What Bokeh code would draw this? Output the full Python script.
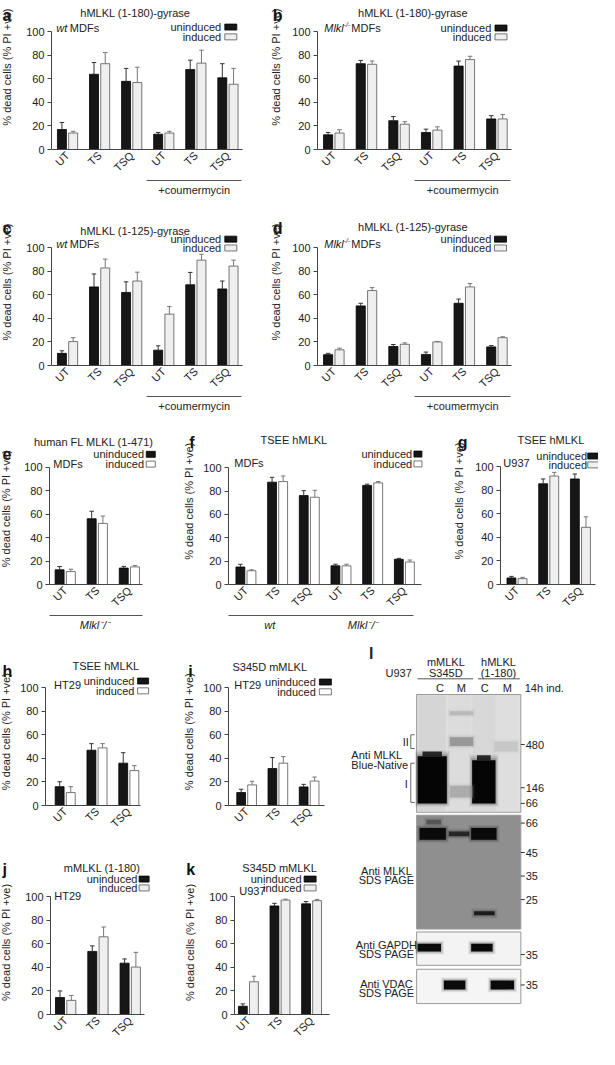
import math
from bokeh.plotting import figure
from bokeh.layouts import row, column
from bokeh.models import Range1d, LinearAxis, FixedTicker, Title
from bokeh.core.properties import value
from bokeh.embed import file_html
from bokeh.resources import INLINE

FONT = "Liberation Sans"
SX = 599 / 615
SY = 1045 / 1065
INK = "#161616"
TXT = "#222222"
YLABEL = "% dead cells (% PI +ve)"
ML = 26  # px between a panel's strip and its y axis

# ---------------- data ----------------
cats6 = ["UT", "TS", "TSQ", "UT", "TS", "TSQ"]
cats3 = ["UT", "TS", "TSQ"]

a_un = [17, 64, 58, 13, 68, 61]
a_un_err = [6, 10, 11, 1.5, 8, 12]
a_in = [14, 73, 57, 14, 73.5, 55.5]
a_in_err = [1.5, 9.5, 13, 1.5, 11, 13.5]

b_un = [12.5, 73, 24.5, 14.5, 71, 26]
b_un_err = [2, 2.8, 3.5, 2.8, 4.2, 2.8]
b_in = [14, 72.5, 21.5, 16.5, 76.5, 26]
b_in_err = [2.8, 2.8, 2.2, 2.8, 2.8, 3.8]

c_un = [10.3, 66.7, 62, 13, 68.5, 65]
c_un_err = [2.2, 11, 9, 3.7, 10.5, 6.7]
c_in = [20.3, 82.8, 71.7, 43.6, 89.4, 84.4]
c_in_err = [3.3, 7.5, 7.5, 6.4, 5, 5]

d_un = [9.2, 50.6, 16.1, 9.4, 52.8, 15.8]
d_un_err = [1.1, 2.2, 1.7, 2, 3.6, 1.1]
d_in = [13.3, 63.6, 18, 20, 66.7, 23.6]
d_in_err = [1.4, 2.5, 1.2, 0.4, 2.8, 0.8]

e_un = [12.5, 56, 14]
e_un_err = [2.8, 6.4, 1.4]
e_in = [11, 52, 15]
e_in_err = [2, 6.3, 1.1]

f_un = [15, 87.7, 76.2, 16, 84.9, 21.6]
f_un_err = [2.3, 4.2, 4.2, 1.4, 1.1, 0.8]
f_in = [11.8, 88.2, 74.8, 16, 87.1, 19.3]
f_in_err = [0.8, 4.8, 5.9, 1.4, 1.1, 1.7]

g_un = [5.6, 85.6, 89.7]
g_un_err = [1.3, 4.1, 4.2]
g_in = [5, 92.2, 48.6]
g_in_err = [1.1, 3.1, 8.9]

h_un = [16, 47, 36]
h_un_err = [4.2, 5.6, 8.9]
h_in = [11, 49, 29.7]
h_in_err = [5, 3.6, 4.2]

i_un = [11, 31.4, 15.8]
i_un_err = [2.8, 9.4, 2.2]
i_in = [17.5, 36, 20.8]
i_in_err = [3.1, 5.6, 3.4]

j_un = [14.4, 53.6, 43.6]
j_un_err = [5.6, 4.7, 3.6]
j_in = [12, 66, 40.3]
j_in_err = [4.2, 8.3, 12.5]

k_un = [7, 92.2, 94]
k_un_err = [2, 2.2, 1.9]
k_in = [27.8, 97.2, 96.7]
k_in_err = [4.7, 0.8, 1.1]

legend_labels = ["uninduced", "induced"]
y_ticks = [0, 20, 40, 60, 80, 100]

# western blot (panel l) labels
mw_native = ["480", "146", "66"]
mw_sds = ["66", "45", "35", "25"]
mw_gapdh = ["35"]
mw_vdac = ["35"]
lane_labels = ["C", "M", "C", "M"]
construct_top = ["mMLKL", "hMLKL"]
construct_bottom = ["S345D", "(1-180)"]

# ---------------- layout specs (reference pixel geometry) ----------------
SPECS = {
    "a": dict(canvas=(0, 0, 272, 217), frame=(50, 152, 6, 272), xs=-0.5, xe=5.45, axis_end=248, y100=32,
              ylab_x=7, letter=(2, 1), title=("hMLKL (1-180)-gyrase", 137, 13),
              cell=[("wt", "italic", 55), ("MDFs", "normal", 69)], cell_y=28,
              leg_x=226, leg_y=(27, 37), sq=(236, 12, 6),
              under=([3.95], ["+coumermycin"], (2.45, 5.42), False), ind_fill="#efefef"),
    "b": dict(canvas=(272, 0, 615, 217), frame=(323, 152, 6, 615), xs=-0.5, xe=5.45, axis_end=524, y100=32,
              ylab_x=283, letter=(279.5, 1), title=("hMLKL (1-180)-gyrase", 422, 13),
              cell=[("Mlkl", "italic", 330), ("MDFs", "normal", 358)], sup=(350, 24), cell_y=28,
              leg_x=503, leg_y=(28, 37), sq=(513, 12, 6),
              under=([3.95], ["+coumermycin"], (2.47, 5.43), False), ind_fill="#efefef"),
    "c": dict(canvas=(0, 217, 272, 438), frame=(50, 371.7, 223, 272), xs=-0.5, xe=5.45, axis_end=248, y100=251.7,
              ylab_x=7, letter=(2, 218), title=("hMLKL (1-125)-gyrase", 137, 235),
              cell=[("wt", "italic", 55), ("MDFs", "normal", 69)], cell_y=248,
              leg_x=226, leg_y=(243, 252), sq=(236, 12, 6),
              under=([3.95], ["+coumermycin"], (2.45, 5.42), False), ind_fill="#efefef"),
    "d": dict(canvas=(272, 217, 615, 438), frame=(323, 371.7, 223, 615), xs=-0.5, xe=5.45, axis_end=524, y100=251.7,
              ylab_x=283, letter=(279.5, 218), title=("hMLKL (1-125)-gyrase", 422, 231),
              cell=[("Mlkl", "italic", 330), ("MDFs", "normal", 358)], sup=(350, 244), cell_y=248,
              leg_x=503, leg_y=(243, 252), sq=(512.5, 12, 6),
              under=([3.95], ["+coumermycin"], (2.47, 5.43), False), ind_fill="#efefef"),
    "e": dict(canvas=(0, 438, 183, 655), frame=(48, 595, 455, 183), xs=-0.49, xe=2.4, axis_end=145, y100=475,
              ylab_x=6, letter=(2, 439), title=("human FL MLKL (1-471)", 32, 448), title_as_title=True,
              cell=[("MDFs", "normal", 52)], cell_y=472,
              leg_x=147, leg_y=(462, 472), sq=(154, 9, 6),
              under=([0.93], ["Mlkl\u207b/\u207b"], (-0.49, 2.4), True), ind_fill="white"),
    "f": dict(canvas=(183, 438, 440, 655), frame=(232, 595, 441, 440), xs=-0.55, xe=5.55, axis_end=433, y100=476,
              ylab_x=194, letter=(194, 439), title=("TSEE hMLKL", 300, 448),
              cell=[("MDFs", "normal", 238)], cell_y=471,
              leg_x=423, leg_y=(462, 472), sq=(429, 8, 6),
              under=([0.75, 3.7], ["wt", "Mlkl\u207b/\u207b"], (-0.55, 5.3), True), ind_fill="white"),
    "g": dict(canvas=(440, 438, 615, 655), frame=(512, 595, 441, 615), xs=-0.52, xe=2.48, axis_end=612, y100=475,
              ylab_x=471, letter=(470, 439), title=("TSEE hMLKL", 565, 448),
              cell=[("U937", "normal", 515)], cell_y=471,
              leg_x=603, leg_y=(464, 473), sq=(609.5, 11, 6),
              under=None, ind_fill="#efefef"),
    "h": dict(canvas=(0, 655, 183, 866), frame=(44, 820, 670, 183), xs=-0.62, xe=2.36, axis_end=143, y100=700,
              ylab_x=6, letter=(2, 661), title=("TSEE hMLKL", 107, 678),
              cell=[("HT29", "normal", 53)], cell_y=697,
              leg_x=137, leg_y=(693, 703), sq=(146, 11, 6),
              under=None, ind_fill="white"),
    "i": dict(canvas=(183, 655, 355, 866), frame=(232, 820, 670, 355), xs=-0.58, xe=2.49, axis_end=332, y100=700,
              ylab_x=194, letter=(193, 661), title=("S345D mMLKL", 275, 679),
              cell=[("HT29", "normal", 238)], cell_y=697,
              leg_x=323, leg_y=(694, 704), sq=(333, 12, 6),
              under=None, ind_fill="white"),
    "j": dict(canvas=(0, 866, 183, 1065), frame=(49, 1033, 874, 183), xs=-0.47, xe=2.43, axis_end=147, y100=913,
              ylab_x=6, letter=(2, 869), title=("mMLKL (1-180)", 103, 884),
              cell=[("HT29", "normal", 53)], cell_y=912,
              leg_x=140, leg_y=(895, 904), sq=(147, 10, 6),
              under=None, ind_fill="#efefef"),
    "k": dict(canvas=(183, 866, 355, 1065), frame=(238, 1033, 874, 355), xs=-0.44, xe=2.56, axis_end=337, y100=913,
              ylab_x=195, letter=(191, 869), title=("S345D mMLKL", 285, 884),
              cell=[("U937", "normal", 243)], cell_y=907,
              leg_x=308, leg_y=(895, 904), sq=(317, 12, 6),
              under=None, ind_fill="#efefef"),
}


def txt(p, x, y, s, align="left", baseline="middle", size="11px", style="normal", color=TXT, angle=0.0):
    p.text(x=[x], y=[y], text=[s], text_align=align, text_baseline=baseline, angle=angle,
           text_font=value(FONT), text_font_size=size, text_font_style=style, text_color=color)


def plain_fig(w, h, xr, yr):
    p = figure(width=w, height=h, x_range=xr, y_range=yr, x_axis_type=None, y_axis_type=None,
               toolbar_location=None, output_backend="svg",
               min_border_left=0, min_border_right=0, min_border_top=0, min_border_bottom=0)
    p.outline_line_color = None
    p.background_fill_color = "white"
    p.border_fill_color = "white"
    return p


def bar_panel(key, cats, un, un_err, ind, ind_err):
    sp = SPECS[key]
    cx0, cy0, cx1, cy1 = sp["canvas"]
    L, B, T, R = sp["frame"]
    xs, xe = sp["xs"], sp["xe"]
    pitch = (sp["axis_end"] - L) / (xe - xs)
    ppu = (B - sp["y100"]) / 100.0
    x_end = xs + (R - L) / pitch
    y_end = (B - T) / ppu

    def X(px):
        return xs + (px - L) / pitch

    def Y(py):
        return (B - py) / ppu

    W = round((cx1 - cx0) * SX)
    H = round((cy1 - cy0) * SY)
    nw = round((L - cx0) * SX) - ML
    mw = W - nw

    # left strip: panel letter and rotated axis title
    strip = plain_fig(nw, H, Range1d(cx0, cx0 + nw / SX), Range1d(cy0 + H / SY, cy0))
    lx, ly = sp["letter"]
    txt(strip, lx, ly, key, baseline="top", size="16px", style="bold", color="#111111")
    txt(strip, sp["ylab_x"], B - 50 * ppu, YLABEL, align="center", angle=math.pi / 2)

    mr = round((cx1 - R) * SX)
    mt = round((T - cy0) * SY)
    mb = round((cy1 - B) * SY)
    p = figure(width=mw, height=H, x_range=Range1d(xs, x_end), y_range=Range1d(0, y_end),
               x_axis_type=None, y_axis_type=None, toolbar_location=None, output_backend="svg",
               min_border_left=ML, min_border_right=mr, min_border_top=mt, min_border_bottom=mb)
    p.outline_line_color = None
    p.background_fill_color = "white"
    p.border_fill_color = "white"

    yax = LinearAxis(ticker=FixedTicker(ticks=y_ticks, minor_ticks=[]), bounds=(0, 100),
                     major_label_text_font=FONT, major_label_text_font_size="11px",
                     major_label_text_color=TXT, major_label_standoff=3,
                     major_tick_out=4, major_tick_in=0, minor_tick_out=0, minor_tick_in=0,
                     axis_line_color="#444", major_tick_line_color="#444")
    p.add_layout(yax, "left")

    n = len(cats)
    xax = LinearAxis(ticker=FixedTicker(ticks=list(range(n)), minor_ticks=[]),
                     major_label_overrides={i: c for i, c in enumerate(cats)},
                     bounds=(xs, xe), major_label_orientation=math.pi / 4,
                     major_tick_out=0, major_tick_in=0, minor_tick_out=0, minor_tick_in=0,
                     major_label_standoff=4, major_label_text_font=FONT,
                     major_label_text_font_size="11px", major_label_text_color=TXT,
                     axis_line_color="#444")
    p.add_layout(xax, "below")

    if sp["under"] is not None:
        ticks, labels, bnds, italic = sp["under"]
        uax = LinearAxis(ticker=FixedTicker(ticks=ticks, minor_ticks=[]),
                         major_label_overrides=dict(zip(ticks, labels)), bounds=bnds,
                         major_tick_out=0, major_tick_in=0, minor_tick_out=0, minor_tick_in=0,
                         major_label_standoff=3, major_label_text_font=FONT,
                         major_label_text_font_size="11px", major_label_text_color=TXT,
                         major_label_text_font_style="italic" if italic else "normal",
                         axis_line_color="#555")
        p.add_layout(uax, "below")

    # bars
    idx = list(range(n))
    off, bw = 0.175, 0.28
    xu = [i - off for i in idx]
    xi = [i + off for i in idx]
    p.vbar(x=xu, top=un, bottom=0, width=bw, fill_color=INK, line_color="#000000", line_width=0.8)
    p.vbar(x=xi, top=ind, bottom=0, width=bw, fill_color=sp["ind_fill"], line_color="#555555", line_width=0.8)
    cap = 0.07
    for xx, top, err, col in ((xu, un, un_err, "#333333"), (xi, ind, ind_err, "#777777")):
        hi = [t + e for t, e in zip(top, err)]
        p.segment(x0=xx, y0=top, x1=xx, y1=hi, line_color=col, line_width=1)
        p.segment(x0=[v - cap for v in xx], y0=hi, x1=[v + cap for v in xx], y1=hi,
                  line_color=col, line_width=1)

    # title
    t, tx, ty = sp["title"]
    if sp.get("title_as_title"):
        p.title = Title(text=t, align="left", offset=(tx - L) * SX, standoff=0,
                        text_font=FONT, text_font_size="11px", text_font_style="normal",
                        text_color=TXT)
    else:
        txt(p, X(tx), Y(ty), t, align="center")
    for s, style, px in sp["cell"]:
        txt(p, X(px), Y(sp["cell_y"]), s, style=style)
    if "sup" in sp:
        sx_, sy_ = sp["sup"]
        txt(p, X(sx_), Y(sy_), "-/-", size="7px", style="italic")
    lxr = sp["leg_x"]
    ly0, ly1 = sp["leg_y"]
    txt(p, X(lxr), Y(ly0), legend_labels[0], align="right")
    txt(p, X(lxr), Y(ly1), legend_labels[1], align="right")
    sqx, sqw, sqh = sp["sq"]
    p.rect(x=[X(sqx)], y=[Y(ly0)], width=sqw, height=sqh, width_units="screen", height_units="screen",
           fill_color=INK, line_color="#000000", line_width=0.8)
    p.rect(x=[X(sqx)], y=[Y(ly1)], width=sqw, height=sqh, width_units="screen", height_units="screen",
           fill_color=sp["ind_fill"], line_color="#555555", line_width=0.8)
    return row(strip, p)


pa = bar_panel("a", cats6, a_un, a_un_err, a_in, a_in_err)
pb = bar_panel("b", cats6, b_un, b_un_err, b_in, b_in_err)
pc = bar_panel("c", cats6, c_un, c_un_err, c_in, c_in_err)
pd = bar_panel("d", cats6, d_un, d_un_err, d_in, d_in_err)
pe = bar_panel("e", cats3, e_un, e_un_err, e_in, e_in_err)
pf = bar_panel("f", cats6, f_un, f_un_err, f_in, f_in_err)
pg = bar_panel("g", cats3, g_un, g_un_err, g_in, g_in_err)
ph = bar_panel("h", cats3, h_un, h_un_err, h_in, h_in_err)
pi_ = bar_panel("i", cats3, i_un, i_un_err, i_in, i_in_err)
pj = bar_panel("j", cats3, j_un, j_un_err, j_in, j_in_err)
pk = bar_panel("k", cats3, k_un, k_un_err, k_in, k_in_err)

# ---------------- panel l : western blot ----------------
lw = 599 - round(183 * SX) - round(172 * SX)
lh = round(211 * SY) + round(199 * SY)
pl = plain_fig(lw, lh, Range1d(355, 355 + lw / SX), Range1d(655 + lh / SY, 655))


def ltxt(s, x, y, align="left", size="11px", style="normal", baseline="middle"):
    txt(pl, x, y, s, align=align, size=size, style=style, baseline=baseline)


box_left, box_right = 427, 534
box_tops = [707, 830, 949, 987]
box_bottoms = [827, 946, 983, 1022]
box_fills = ["#e0e0e0", "#8f8f8f", "#f3f3f3", "#f5f5f5"]
pl.quad(left=[box_left] * 4, right=[box_right] * 4, top=box_tops, bottom=box_bottoms,
        fill_color=box_fills, line_color="#9a9a9a", line_width=1)
# faint lane streaks on native gel
pl.quad(left=[429, 459, 484, 509], right=[457, 483, 508, 531], top=[708] * 4, bottom=[826] * 4,
        fill_color=["#d0d0d0", "#dadada", "#d4d4d4", "#dddddd"], fill_alpha=0.7, line_color=None)

SOFT = [(3.0, 0.07), (2.0, 0.10), (1.0, 0.16), (0.0, 1.0)]


def band(x0, x1, yc, h, color="#0a0a0a", alpha=1.0):
    for pad, a in SOFT:
        pl.quad(left=[x0 - pad], right=[x1 + pad], top=[yc - h / 2 - pad], bottom=[yc + h / 2 + pad],
                fill_color=color, fill_alpha=a * alpha, line_color=None)


# native gel blobs
for x0, x1, ytop in ((428, 458, 770), (484, 508, 774)):
    for pad, a in SOFT:
        pl.quad(left=[x0 - pad], right=[x1 + pad], top=[ytop - pad * 2], bottom=[818 + pad],
                fill_color="#050505", fill_alpha=a, line_color=None)
    pl.quad(left=[x0 + 5], right=[x1 - 5], top=[ytop - 5], bottom=[ytop], fill_color="#050505",
            fill_alpha=0.8, line_color=None)
band(461, 485, 755, 9, color="#6a6a6a", alpha=0.5)
band(461, 485, 806, 12, color="#808080", alpha=0.45)
band(461, 485, 726, 4, color="#9a9a9a", alpha=0.45)
band(507, 531, 760, 10, color="#b0b0b0", alpha=0.4)

# SDS MLKL blot
band(430, 457, 849, 12)
band(460, 481, 849, 5, color="#262626")
band(483, 509, 849, 12)
band(486, 507, 930, 4, color="#1c1c1c")
band(437, 452, 837, 5, color="#3a3a3a", alpha=0.6)
# GAPDH
band(428, 452, 965, 8)
band(483, 505, 965, 8)
# VDAC
band(455, 477, 1003, 9)
band(503, 527, 1003, 9)

# MW markers
mw_y = [758, 802, 818, 838, 868, 892, 916, 972, 1003]
mw_text = mw_native + mw_sds + mw_gapdh + mw_vdac
pl.segment(x0=[534] * len(mw_y), y0=mw_y, x1=[538] * len(mw_y), y1=mw_y, line_color="#333333", line_width=1)
for s, y in zip(mw_text, mw_y):
    ltxt(s, 539, y)

# header
ltxt("l", 378, 657, size="16px", style="bold", baseline="top")
ltxt("U937", 395, 685)
for s, x in zip(construct_top, [457, 511]):
    ltxt(s, x, 674, align="center")
for s, x in zip(construct_bottom, [457, 511]):
    ltxt(s, x, 685, align="center")
pl.segment(x0=[428, 490], y0=[691, 691], x1=[485, 533], y1=[691, 691], line_color="#555555", line_width=1)
for s, x in zip(lane_labels, [451, 473, 497, 520]):
    ltxt(s, x, 700, align="center")
ltxt("14h ind.", 538, 700)

# left labels
ltxt("II", 419, 755, align="right")
ltxt("I", 418, 798, align="right")
pl.segment(x0=[421, 421, 421, 421, 421, 421], y0=[748, 748, 762, 777, 777, 817],
           x1=[421, 425, 425, 421, 425, 425], y1=[762, 748, 762, 817, 777, 817],
           line_color="#666666", line_width=1)
ltxt("Anti MLKL", 360, 769)
ltxt("Blue-Native", 360, 779)
for (a_, b_), y in ((("Anti MLKL", "SDS PAGE"), 887), (("Anti GAPDH", "SDS PAGE"), 962), (("Anti VDAC", "SDS PAGE"), 1002)):
    ltxt(a_, 396, y, align="center")
    ltxt(b_, 396, y + 9, align="center")

layout = column(
    row(pa, pb),
    row(pc, pd),
    row(pe, pf, pg),
    row(column(row(ph, pi_), row(pj, pk)), pl),
)

open("out.html", "w").write(file_html(layout, INLINE))
